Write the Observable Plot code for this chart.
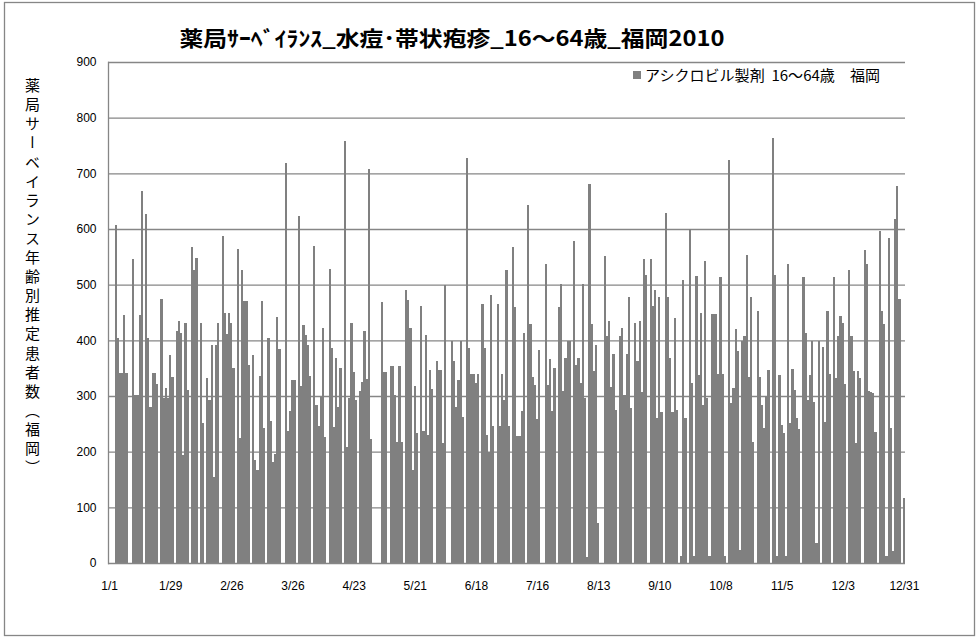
<!DOCTYPE html>
<html><head><meta charset="utf-8">
<script src="https://cdn.jsdelivr.net/npm/d3@7"></script>
<script src="https://cdn.jsdelivr.net/npm/@observablehq/plot@0.6"></script>
<style>
body{margin:0;background:#fff;}
#chart{position:relative;width:980px;height:641px;overflow:hidden;font-family:"Noto Sans CJK JP",sans-serif;}
#chart svg{position:absolute;left:0;top:0;}
#ylab{position:absolute;left:25px;top:78px;writing-mode:vertical-rl;font-size:15px;letter-spacing:4.1px;color:#000;line-height:1;font-family:"Noto Sans CJK JP",sans-serif;}
</style></head><body><div id="chart"></div>
<script>
// daily values, 2010, by month
const jan = [0,0,0,607,404,341,341,446,341,0, 0,546,302,302,446,668,0,627,404,281, 341,341,322,0,474,296,314,296,374,335, 0];
const feb = [416,435,413,194,432,311,0,567,527,548, 0,432,251,0,332,292,392,155,392,432, 0,587,450,411,450,432,350,0];
const mar = [564,224,526,471,471,356,0,374,185,167, 336,471,242,0,404,255,182,195,442,385, 0,0,718,237,273,329,329,0,623,318,428];
const apr = [410,392,336,0,569,283,247,299,422,227, 0,528,387,245,368,281,351,0,758,209, 296,432,344,292,0,309,326,416,330,708];
const may = [223,0,0,0,0,468,344,344,0,353, 353,302,218,353,218,0,490,472,423,167, 318,233,0,462,237,410,230,347,313,0,363];
const jun = [347,347,215,499,0,0,398,363,281,329, 398,263,0,728,386,340,340,323,340,0, 466,386,230,200,481,247,0,466,247,340];
const jul = [293,526,247,0,568,459,228,228,273,414, 0,643,429,335,319,259,382,0,0,537, 320,367,273,350,0,459,502,309,368,398,398];
const aug = [0,578,355,368,323,502,296,10,681,429, 345,392,71,0,0,551,407,435,317,376, 274,0,407,422,302,376,477,278,0,432,362];
const sep = [434,307,547,517,0,546,462,490,260,478, 271,0,629,478,369,272,440,274,0,12, 508,261,0,600,324,12,516,338,449,283];
const oct = [542,296,12,448,448,448,340,514,340,12, 0,724,288,315,420,380,24,398,408,553, 335,478,218,0,453,335,283,242,300,347,0];
const nov = [764,517,12,337,248,233,12,537,251,349, 311,260,240,0,513,413,293,338,398,290, 36,398,0,388,254,452,339,0,513,333];
const dec = [407,443,431,322,0,526,407,345,215,345, 333,0,562,538,309,308,305,236,0,596, 453,429,12,584,242,22,618,677,475,0,117];

const tickLabels = ["1/1","1/29","2/26","3/26","4/23","5/21","6/18","7/16","8/13","9/10","10/8","11/5","12/3","12/31"];
const yTicks = [0,100,200,300,400,500,600,700,800,900];
const titleText = "薬局ｻｰﾍﾞｲﾗﾝｽ_水痘･帯状疱疹_16～64歳_福岡2010";
const seriesName = "アシクロビル製剤  16～64歳　福岡";
const yLabelText = "薬局サーベイランス年齢別推定患者数（福岡）";

const values = [jan,feb,mar,apr,may,jun,jul,aug,sep,oct,nov,dec].flat();
const data = values.map((v,i)=>({day:i, value:v}));
const tickDays = tickLabels.map((_,k)=>k*28);

const font = "'Noto Sans CJK JP', sans-serif";
const chart = Plot.plot({
  width:980, height:641,
  marginLeft:108, marginRight:75, marginTop:62, marginBottom:78,
  style:{fontFamily:font, fontSize:"12px", color:"#000", background:"transparent", overflow:"visible"},
  x:{type:"band", domain:d3.range(values.length), padding:0, axis:null, label:null},
  y:{domain:[0,900], axis:null, label:null},
  marks:[
    Plot.ruleY(yTicks.slice(1), {stroke:"#868686", strokeWidth:1.3}),
    Plot.barY(data, {x:"day", y:"value", fill:"#808080", shapeRendering:"crispEdges"}),
    Plot.ruleY([0], {stroke:"#868686", strokeWidth:1.3}),
    Plot.frame({anchor:"left", stroke:"#868686", strokeWidth:1.3}),
    Plot.axisY(yTicks, {tickSize:0, tickPadding:12, fontSize:12, label:null, fontFamily:"'Liberation Sans', sans-serif"}),
    Plot.axisX(tickDays, {tickSize:0, tickPadding:18, fontSize:12, label:null, fontFamily:"'Liberation Sans', sans-serif", tickFormat:(d)=>tickLabels[tickDays.indexOf(d)]})
  ]
});
const root = document.getElementById("chart");
root.appendChild(chart);

const svg = d3.select(chart);
// outer chart border
svg.insert("rect",":first-child").attr("x",4.5).attr("y",2.5).attr("width",970).attr("height",633)
  .attr("fill","#fff").attr("stroke","#868686").attr("stroke-width",1.3);
// title
svg.append("text").attr("x",452).attr("y",46).attr("text-anchor","middle")
  .attr("font-family",font).attr("font-weight","bold").attr("font-size",21)
  .attr("textLength",545).attr("lengthAdjust","spacingAndGlyphs").attr("fill","#000").text(titleText);
// legend
svg.append("rect").attr("x",633).attr("y",71).attr("width",8).attr("height",8).attr("fill","#808080");
svg.append("text").attr("x",645).attr("y",81).attr("text-anchor","start").attr("font-family",font).attr("font-size",14.5)
  .attr("textLength",235).attr("lengthAdjust","spacingAndGlyphs").attr("fill","#000").text(seriesName);
// y title
const yl = document.createElement("div");
yl.id = "ylab"; yl.textContent = yLabelText;
root.appendChild(yl);
</script></body></html>
